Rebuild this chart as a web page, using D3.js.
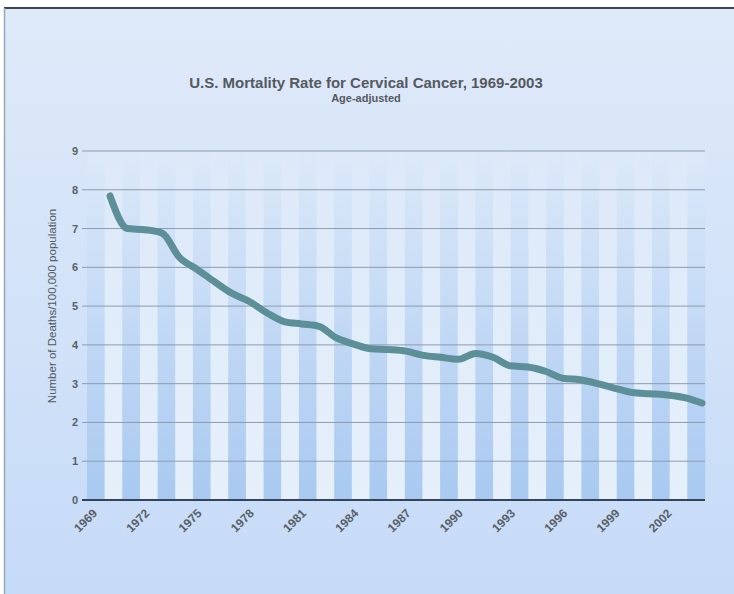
<!DOCTYPE html>
<html lang="en">
	<head>
		<meta charset="utf-8">
		<title>Cervical cancer mortality</title>
		<script src="https://cdn.jsdelivr.net/npm/d3@7"></script>
		<style>
			body { margin: 0; background: #fff; }
			text { font-family: "Liberation Sans", Arial, sans-serif; }
		</style>
	</head>
	<body>
		<script>
			// deaths per 100,000, age-adjusted
			var years = d3.range(1969, 2004);
			var rates = [7.84, 7.0, 6.97, 6.88, 6.25, 5.95, 5.63, 5.33, 5.12, 4.83,
			             4.6, 4.54, 4.48, 4.18, 4.02, 3.9, 3.88, 3.84, 3.73, 3.68,
			             3.63, 3.78, 3.68, 3.46, 3.43, 3.32, 3.14, 3.1, 3.0, 2.88,
			             2.77, 2.74, 2.71, 2.64, 2.5];
			var yTicks = [0, 1, 2, 3, 4, 5, 6, 7, 8, 9];
			var xLabels = [1969, 1972, 1975, 1978, 1981, 1984, 1987, 1990, 1993, 1996, 1999, 2002];

			var w = 734, h = 594;
			var plotLeft = 87, plotRight = 705, plotTop = 151, plotBottom = 500;

			var svg = d3.select("body").append("svg")
				.attr("width", w)
				.attr("height", h);

			var defs = svg.append("defs");
			var bg = defs.append("linearGradient").attr("id", "bg")
				.attr("x1", 0).attr("y1", 0).attr("x2", 0).attr("y2", 1);
			bg.append("stop").attr("offset", "0%").attr("stop-color", "#dfeaf9");
			bg.append("stop").attr("offset", "100%").attr("stop-color", "#c6dbf8");

			var dark = defs.append("linearGradient").attr("id", "dark")
				.attr("x1", 0).attr("y1", 0).attr("x2", 0).attr("y2", 1);
			dark.append("stop").attr("offset", "0%").attr("stop-color", "#dce9f9");
			dark.append("stop").attr("offset", "100%").attr("stop-color", "#a9c9f1");

			var light = defs.append("linearGradient").attr("id", "light")
				.attr("x1", 0).attr("y1", 0).attr("x2", 0).attr("y2", 1);
			light.append("stop").attr("offset", "0%").attr("stop-color", "#dde9f9");
			light.append("stop").attr("offset", "100%").attr("stop-color", "#e6f0fb");

			// background + frame
			svg.append("rect")
				.attr("x", 4).attr("y", 8)
				.attr("width", w - 4).attr("height", h - 8)
				.attr("fill", "url(#bg)");
			svg.append("line")
				.attr("x1", 4).attr("x2", w).attr("y1", 8).attr("y2", 8)
				.attr("stroke", "#3b4450").attr("stroke-width", 2);
			svg.append("line")
				.attr("x1", 4.5).attr("x2", 4.5).attr("y1", 8).attr("y2", h)
				.attr("stroke", "#9aa6b4").attr("stroke-width", 1.5);

			var bandScale = d3.scaleBand()
				.domain(years)
				.range([plotLeft, plotRight]);

			var xScale = d3.scaleLinear()
				.domain([1969, 2003])
				.range([110, 702]);

			var yScale = d3.scaleLinear()
				.domain([0, 9])
				.range([plotBottom, plotTop]);

			// alternating stripes
			svg.selectAll("rect.stripe")
				.data(years)
				.enter()
				.append("rect")
				.attr("class", "stripe")
				.attr("x", function(d) { return bandScale(d); })
				.attr("y", yScale(9))
				.attr("width", bandScale.bandwidth() + 0.3)
				.attr("height", yScale(0) - yScale(9))
				.attr("fill", function(d, i) { return i % 2 == 0 ? "url(#dark)" : "url(#light)"; });

			// grid lines
			svg.selectAll("line.grid")
				.data(yTicks.slice(1))
				.enter()
				.append("line")
				.attr("class", "grid")
				.attr("x1", plotLeft - 5).attr("x2", plotRight)
				.attr("y1", function(d) { return yScale(d); })
				.attr("y2", function(d) { return yScale(d); })
				.attr("stroke", "#8d9bb0")
				.attr("stroke-width", 1);

			svg.append("line")
				.attr("x1", plotLeft - 5).attr("x2", plotRight)
				.attr("y1", yScale(0)).attr("y2", yScale(0))
				.attr("stroke", "#34445a")
				.attr("stroke-width", 2);

			svg.selectAll("text.ytick")
				.data(yTicks)
				.enter()
				.append("text")
				.attr("class", "ytick")
				.attr("x", plotLeft - 9)
				.attr("y", function(d) { return yScale(d) + 4; })
				.attr("text-anchor", "end")
				.attr("font-size", "11px")
				.attr("font-weight", "bold")
				.attr("fill", "#5a5f66")
				.text(function(d) { return d; });

			svg.selectAll("text.xtick")
				.data(xLabels)
				.enter()
				.append("text")
				.attr("class", "xtick")
				.attr("text-anchor", "end")
				.attr("font-size", "12px")
				.attr("font-weight", "bold")
				.attr("fill", "#5a5f66")
				.attr("transform", function(d) {
					return "translate(" + (xScale(d) - 12) + "," + 514 + ") rotate(-45)";
				})
				.text(function(d) { return d; });

			// the series
			var line = d3.line()
				.x(function(d, i) { return xScale(years[i]); })
				.y(function(d) { return yScale(d); })
				.curve(d3.curveMonotoneX);

			svg.append("path")
				.datum(rates)
				.attr("d", line)
				.attr("fill", "none")
				.attr("stroke", "#5d8f99")
				.attr("stroke-width", 7)
				.attr("stroke-linecap", "round")
				.attr("stroke-linejoin", "round");

			// titles
			svg.append("text")
				.attr("x", 366).attr("y", 88)
				.attr("text-anchor", "middle")
				.attr("font-size", "15px")
				.attr("font-weight", "bold")
				.attr("fill", "#55595f")
				.text("U.S. Mortality Rate for Cervical Cancer, 1969-2003");

			svg.append("text")
				.attr("x", 366).attr("y", 102)
				.attr("text-anchor", "middle")
				.attr("font-size", "11px")
				.attr("font-weight", "bold")
				.attr("fill", "#55595f")
				.text("Age-adjusted");

			svg.append("text")
				.attr("transform", "translate(56,306) rotate(-90)")
				.attr("text-anchor", "middle")
				.attr("font-size", "11.5px")
				.attr("fill", "#55595f")
				.text("Number of Deaths/100,000 population");
		</script>
	</body>
</html>
